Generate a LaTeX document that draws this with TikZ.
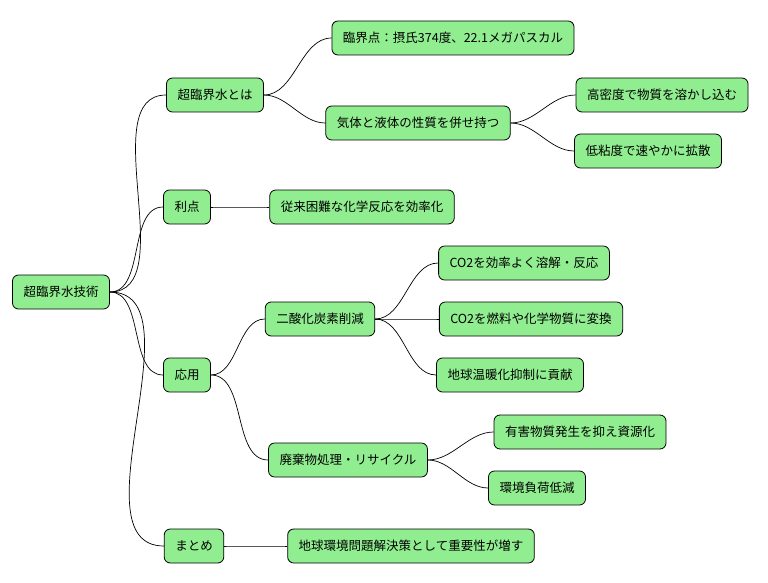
\documentclass[tikz,border=0pt]{standalone}
\usepackage{fontspec}
\setmainfont{Noto Sans CJK JP}
\begin{document}
\begin{tikzpicture}[x=1pt,y=-1pt,
  n/.style={draw=black,line width=0.8pt,fill=green!44!white,fill=nodegreen,rounded corners=6pt,minimum height=34pt,inner xsep=11pt,font=\fontsize{12.5}{14}\selectfont},
  c/.style={draw=black,line width=0.7pt,out=0,in=180,looseness=0.9}]
\definecolor{nodegreen}{HTML}{90EE90}
\useasboundingbox (0,0) rectangle (768,583);
\node[n] (r) at (61,292) {超臨界水技術};
\node[n] (a) at (215,95) {超臨界水とは};
\node[n] (b) at (187,207) {利点};
\node[n] (c) at (187,375) {応用};
\node[n] (d) at (194,546) {まとめ};
\node[n] (a1) at (453,38) {臨界点：摂氏374度、22.1メガパスカル};
\node[n] (a2) at (418,123) {気体と液体の性質を併せ持つ};
\node[n] (a21) at (662,95) {高密度で物質を溶かし込む};
\node[n] (a22) at (648,151) {低粘度で速やかに拡散};
\node[n] (b1) at (362,207) {従来困難な化学反応を効率化};
\node[n] (c1) at (320,319) {二酸化炭素削減};
\node[n] (c11) at (524,263) {CO2を効率よく溶解・反応};
\node[n] (c12) at (531,319) {CO2を燃料や化学物質に変換};
\node[n] (c13) at (510,375) {地球温暖化抑制に貢献};
\node[n] (c2) at (348,460) {廃棄物処理・リサイクル};
\node[n] (c21) at (580,432) {有害物質発生を抑え資源化};
\node[n] (c22) at (537,488) {環境負荷低減};
\node[n] (d1) at (411,546) {地球環境問題解決策として重要性が増す};
\foreach \p/\q in {r/a,r/b,r/c,r/d,a/a1,a/a2,a2/a21,a2/a22,b/b1,c/c1,c/c2,c1/c11,c1/c12,c1/c13,c2/c21,c2/c22,d/d1}
  \draw[c] (\p.east) to (\q.west);
\end{tikzpicture}
\end{document}
